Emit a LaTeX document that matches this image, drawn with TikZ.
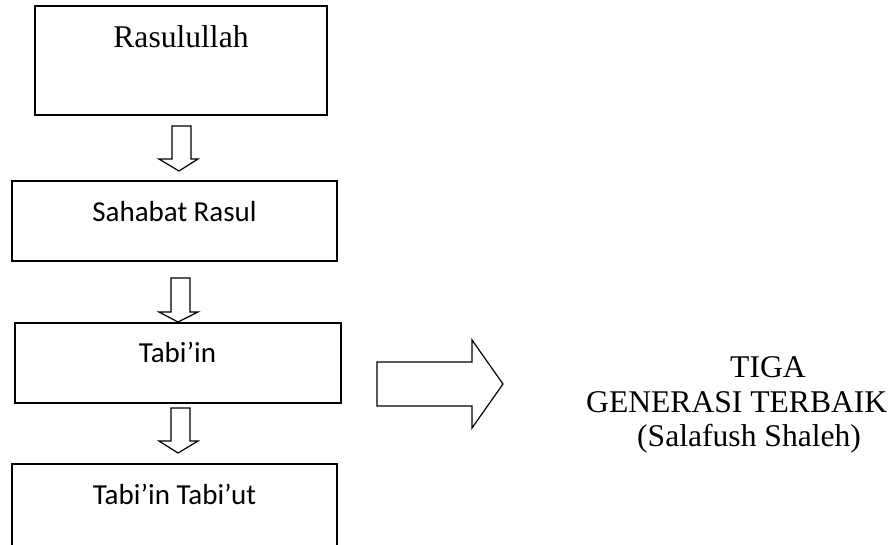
\documentclass[tikz,border=0pt]{standalone}
\usepackage{fontspec}
\setmainfont{Liberation Serif}
\newfontfamily\carlito{Carlito}
\begin{document}
\begin{tikzpicture}[x=1pt,y=-1pt,
  box/.style={draw,line width=1.4pt,inner sep=0pt,outer sep=0pt},
  blk/.style={draw,line width=1.2pt,line join=miter},
  serif/.style={inner sep=0pt,anchor=base,font=\fontsize{31.6}{35}\selectfont},
  calib/.style={inner sep=0pt,anchor=base,font=\carlito\fontsize{29}{33}\selectfont}]
\useasboundingbox (0,0) rectangle (895,544);
% boxes
\node[box,minimum width=292pt,minimum height=109pt] (b1) at (181,60.5) {};
\node[box,minimum width=325pt,minimum height=80pt] (b2) at (174.5,221) {};
\node[box,minimum width=326pt,minimum height=80pt] (b3) at (178,363) {};
\node[box,minimum width=325pt,minimum height=84pt] (b4) at (174.5,506) {};
% texts
\node[serif] (t1) at (181,47) {Rasulullah};
\node[calib] (t2) at (174.5,221) {Sahabat Rasul};
\node[calib] (t3) at (177.5,362) {Tabi’in};
\node[calib] (t4) at (174.5,504) {Tabi’in Tabi’ut};
% down block arrows
\draw[blk] (172,126) -- (191,126) -- (191,159) -- (198,159) -- (179,171) -- (159,159) -- (172,159) -- cycle;
\draw[blk] (171,278) -- (190,278) -- (190,312) -- (198,312) -- (178,322) -- (159,312) -- (171,312) -- cycle;
\draw[blk] (171,408) -- (190,408) -- (190,441) -- (198,441) -- (178,453) -- (159,441) -- (171,441) -- cycle;
% big right arrow
\draw[blk] (377,362) -- (472,362) -- (472,340) -- (503,384) -- (472,428) -- (472,406) -- (377,406) -- cycle;
% right text
\node[serif,anchor=base west] (g1) at (730,377) {TIGA};
\node[serif,anchor=base west] (g2) at (586,412) {GENERASI TERBAIK};
\node[serif,anchor=base west] (g3) at (637,446) {(Salafush Shaleh)};
\end{tikzpicture}
\end{document}
